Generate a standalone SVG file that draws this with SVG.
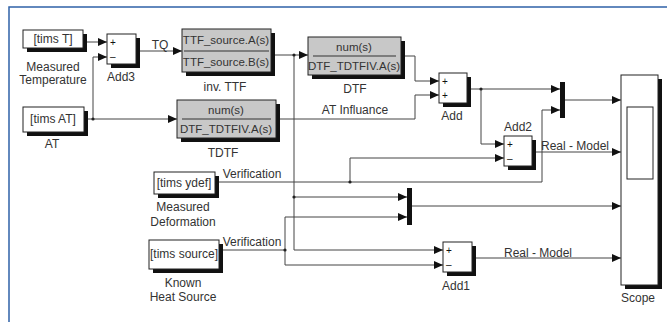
<svg xmlns="http://www.w3.org/2000/svg" width="667" height="322" viewBox="0 0 667 322">
<style>
text{font-family:"Liberation Sans",Arial,sans-serif;font-size:12px;fill:#333;text-anchor:middle;dominant-baseline:central}
.sh{fill:#111}
.blk{fill:#fff;stroke:#222;stroke-width:1}
.tf{fill:#c8c8c8;stroke:#222;stroke-width:1}
.dv{stroke:#333;stroke-width:1}
.tt{font-size:11.5px}
.sg{font-size:10px;text-anchor:start;fill:#111}
.ln{fill:none;stroke:#444;stroke-width:1}
.dot{fill:#222}
.mux{fill:#111}
</style>
<defs>
<marker id="a" markerWidth="9" markerHeight="8" refX="9" refY="4" orient="auto" markerUnits="userSpaceOnUse">
<path d="M0,0 L9,4 L0,8 z" fill="#111"/>
</marker>
</defs>
<rect x="9" y="7" width="700" height="340" fill="none" stroke="#2f62a8" stroke-width="1.5"/>

<g id="timsT">
<rect class="sh" x="27" y="34" width="60" height="18"/>
<rect class="blk" x="23" y="30" width="60" height="18"/>
<text x="53" y="39">[tims T]</text>
<text x="53" y="67">Measured</text>
<text x="53" y="80">Temperature</text>
</g>
<g id="timsAT">
<rect class="sh" x="27" y="111" width="61" height="25"/>
<rect class="blk" x="23" y="107" width="61" height="25"/>
<text x="53" y="119">[tims AT]</text>
<text x="52" y="144">AT</text>
</g>
<g id="Add3">
<rect class="sh" x="111" y="38" width="29" height="30"/>
<rect class="blk" x="107" y="34" width="29" height="30"/>
<text class="sg" x="110" y="42">+</text>
<text class="sg" x="110" y="56">–</text>
<text x="121" y="77">Add3</text>
</g>
<g id="invTTF">
<rect class="sh" x="186" y="33" width="89" height="43"/>
<rect class="tf" x="182" y="29" width="89" height="43"/>
<line class="dv" x1="184" y1="51" x2="269" y2="51"/>
<text class="tt" x="226" y="40">TTF_source.A(s)</text>
<text class="tt" x="226" y="62">TTF_source.B(s)</text>
<text x="225" y="87">inv. TTF</text>
</g>
<g id="TDTF">
<rect class="sh" x="181" y="104" width="99" height="38"/>
<rect class="tf" x="177" y="100" width="99" height="38"/>
<line class="dv" x1="182" y1="119" x2="271" y2="119"/>
<text class="tt" x="226" y="110">num(s)</text>
<text class="tt" x="226" y="129">DTF_TDTFIV.A(s)</text>
<text x="223" y="153">TDTF</text>
</g>
<g id="DTF">
<rect class="sh" x="312" y="41" width="93" height="38"/>
<rect class="tf" x="308" y="37" width="93" height="38"/>
<line class="dv" x1="313" y1="56" x2="396" y2="56"/>
<text class="tt" x="354" y="47">num(s)</text>
<text class="tt" x="354" y="66">DTF_TDTFIV.A(s)</text>
<text x="355" y="89">DTF</text>
</g>
<g id="Add">
<rect class="sh" x="443" y="77" width="28" height="30"/>
<rect class="blk" x="439" y="73" width="28" height="30"/>
<text class="sg" x="442" y="81">+</text>
<text class="sg" x="442" y="95">+</text>
<text x="452" y="116">Add</text>
</g>
<g id="Add2">
<rect class="sh" x="508" y="140" width="28" height="30"/>
<rect class="blk" x="504" y="136" width="28" height="30"/>
<text class="sg" x="507" y="144">+</text>
<text class="sg" x="507" y="158">–</text>
<text x="518" y="127">Add2</text>
</g>
<g id="Add1">
<rect class="sh" x="447" y="246" width="29" height="30"/>
<rect class="blk" x="443" y="242" width="29" height="30"/>
<text class="sg" x="446" y="250">+</text>
<text class="sg" x="446" y="264">–</text>
<text x="456" y="286">Add1</text>
</g>
<g id="timsydef">
<rect class="sh" x="158" y="176" width="61" height="22"/>
<rect class="blk" x="154" y="172" width="61" height="22"/>
<text x="184" y="183" font-size="11">[tims ydef]</text>
<text x="183" y="207">Measured</text>
<text x="183" y="222">Deformation</text>
</g>
<g id="timssource">
<rect class="sh" x="153" y="244" width="70" height="29"/>
<rect class="blk" x="149" y="240" width="70" height="29"/>
<text x="184" y="254">[tims source]</text>
<text x="183" y="283">Known</text>
<text x="183" y="297">Heat Source</text>
</g>
<g id="Mux1">
<rect class="mux" x="560" y="82" width="5" height="36"/>
</g>
<g id="Mux2">
<rect class="mux" x="407" y="188" width="5" height="37"/>
</g>
<g id="Scope">
<rect class="sh" x="625" y="79" width="37" height="210"/>
<rect class="blk" x="621" y="75" width="37" height="210"/>
<rect class="blk" x="627" y="107" width="26" height="72"/>
<text x="638" y="298">Scope</text>
</g>

<g id="connectors">
<path class="ln" d="M87,42 H107" marker-end="url(#a)"/>
<path class="ln" d="M88,119 H177" marker-end="url(#a)"/>
<path class="ln" d="M93,119 V57 H107" marker-end="url(#a)"/>
<path class="ln" d="M140,51 H182" marker-end="url(#a)"/>
<text x="160" y="45">TQ</text>
<path class="ln" d="M275,55 H308" marker-end="url(#a)"/>
<path class="ln" d="M294,55 V250 H443" marker-end="url(#a)"/>
<path class="ln" d="M294,197 H407" marker-end="url(#a)"/>
<path class="ln" d="M405,56 H415 V81 H439" marker-end="url(#a)"/>
<path class="ln" d="M280,119 H415 V95 H439" marker-end="url(#a)"/>
<text x="355" y="110">AT Influance</text>
<path class="ln" d="M471,89 H560" marker-end="url(#a)"/>
<path class="ln" d="M481,89 V144 H504" marker-end="url(#a)"/>
<path class="ln" d="M219,182 H542 V110 H560" marker-end="url(#a)"/>
<text x="252" y="174">Verification</text>
<path class="ln" d="M350,182 V158 H504" marker-end="url(#a)"/>
<path class="ln" d="M536,152 H621" marker-end="url(#a)"/>
<text x="575" y="146">Real - Model</text>
<path class="ln" d="M565,100 H621" marker-end="url(#a)"/>
<path class="ln" d="M412,206 H621" marker-end="url(#a)"/>
<path class="ln" d="M223,250 H285 V217 H407" marker-end="url(#a)"/>
<text x="252" y="242">Verification</text>
<path class="ln" d="M285,250 V265 H443" marker-end="url(#a)"/>
<path class="ln" d="M476,258 H621" marker-end="url(#a)"/>
<text x="538" y="253">Real - Model</text>
<circle class="dot" cx="93" cy="119" r="1.6"/>
<circle class="dot" cx="294" cy="55" r="1.6"/>
<circle class="dot" cx="294" cy="197" r="1.6"/>
<circle class="dot" cx="350" cy="182" r="1.6"/>
<circle class="dot" cx="285" cy="250" r="1.6"/>
<circle class="dot" cx="481" cy="89" r="1.6"/>
</g>
</svg>
